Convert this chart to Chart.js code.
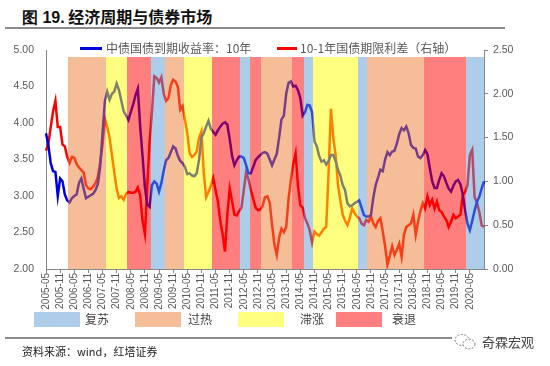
<!DOCTYPE html>
<html>
<head>
<meta charset="utf-8">
<script src="https://cdn.jsdelivr.net/npm/chart.js@4.4.1/dist/chart.umd.min.js"></script>
<style>
body{margin:0;background:#fff;width:550px;height:366px;position:relative;overflow:hidden;font-family:"Noto Sans CJK SC","Liberation Sans",sans-serif;}
#myChart{position:absolute;left:0;top:0;}
.abs{position:absolute;white-space:nowrap;}
#title{left:22px;top:5px;font-size:16px;line-height:22px;color:#111;font-weight:600;}
#title b{font-family:"Liberation Sans",sans-serif;font-weight:bold;}
.rule{position:absolute;left:5px;height:2px;background:#8a8a8a;}
.lg{font-size:12px;line-height:16px;color:#595959;}
.swatch{position:absolute;height:3px;}
.box{position:absolute;top:312px;width:46px;height:15px;}
.blg{font-size:12px;line-height:16px;color:#404040;top:311px;}
#source{left:22px;top:343px;font-size:11px;line-height:16px;color:#222;}
#mark{left:482px;top:333px;font-size:13px;line-height:17px;color:#444;}
</style>
</head>
<body>
<div id="title" class="abs"><b>图 19.</b> 经济周期与债券市场</div>
<div class="rule" style="top:27px;width:500px;"></div>
<canvas id="myChart" width="550" height="320"></canvas>

<div class="swatch" style="left:80px;top:47px;width:22px;background:#0000dd;"></div>
<div class="abs lg" style="left:106px;top:40px;">中债国债到期收益率：10年</div>
<div class="swatch" style="left:277px;top:47px;width:20px;background:#ff0000;"></div>
<div class="abs lg" style="left:300px;top:40px;">10-1年国债期限利差（右轴）</div>

<div id="phaseLegend"></div>

<div class="rule" style="top:337px;width:447px;"></div>
<div id="source" class="abs">资料来源：wind，红塔证券</div>
<svg class="abs" style="left:454px;top:333px;" width="24" height="18" viewBox="0 0 24 18">
  <ellipse cx="8" cy="7" rx="7" ry="5.5" fill="none" stroke="#777" stroke-width="1" stroke-dasharray="2 1.5"/>
  <ellipse cx="15" cy="11" rx="6" ry="4.8" fill="#fff" stroke="#777" stroke-width="1" stroke-dasharray="2 1.5"/>
</svg>
<div id="mark" class="abs">奇霖宏观</div>

<script>
// 中债国债到期收益率：10年 (左轴), 2005-05 起逐月
const yield10y = [
  3.86, 3.70, 3.45, 3.34, 3.33, 3.00, 3.24, 3.20, 3.02, 2.94,
  2.91, 2.97, 3.00, 3.02, 3.18, 3.24, 3.10, 2.97, 2.99, 3.01,
  3.03, 3.08, 3.16, 3.40, 3.85, 4.30, 4.43, 4.32, 4.40, 4.43,
  4.54, 4.45, 4.30, 4.16, 4.10, 4.04, 4.15, 4.25, 4.38, 4.47,
  3.95, 3.55, 3.12, 2.88, 2.85, 3.15, 3.20, 3.17, 3.06, 3.18,
  3.35, 3.49, 3.52, 3.60, 3.68, 3.65, 3.55, 3.48, 3.45, 3.40,
  3.30, 3.31, 3.28, 3.27, 3.31, 3.50, 3.80, 3.86, 3.95, 4.03,
  3.92, 3.88, 3.84, 3.90, 3.95, 3.99, 4.01, 3.98, 3.78, 3.55,
  3.42, 3.49, 3.54, 3.54, 3.52, 3.42, 3.31, 3.31, 3.40, 3.49,
  3.53, 3.56, 3.59, 3.60, 3.58, 3.50, 3.42, 3.50, 3.58, 3.80,
  4.05, 4.10, 4.40, 4.55, 4.57, 4.50, 4.51, 4.45, 4.34, 4.10,
  4.15, 4.25, 4.24, 4.15, 3.75, 3.68, 3.55, 3.47, 3.49, 3.43,
  3.48, 3.56, 3.56, 3.48, 3.36, 3.28, 3.15, 3.08, 2.90, 2.86,
  2.87, 2.90, 2.92, 2.94, 2.84, 2.74, 2.72, 2.72, 2.74, 2.98,
  3.15, 3.25, 3.36, 3.34, 3.50, 3.60, 3.56, 3.61, 3.62, 3.72,
  3.85, 3.93, 3.90, 3.95, 3.86, 3.70, 3.66, 3.65, 3.54, 3.52,
  3.56, 3.63, 3.57, 3.38, 3.20, 3.11, 3.11, 3.22, 3.31, 3.27,
  3.18, 3.10, 3.06, 3.14, 3.20, 3.22, 3.16, 3.02, 2.80, 2.62,
  2.53, 2.66, 2.80, 2.92, 2.99, 3.10, 3.20
];

// 10-1年国债期限利差 (右轴)
const spread = [
  1.35, 1.43, 1.62, 1.80, 1.92, 1.62, 1.62, 1.42, 1.40, 1.28,
  1.21, 1.28, 1.27, 1.20, 1.16, 1.13, 1.10, 0.96, 0.92, 0.91,
  0.94, 0.98, 1.05, 1.22, 1.42, 1.72, 1.62, 1.50, 1.30, 1.10,
  0.92, 0.81, 0.83, 0.79, 0.86, 0.88, 0.87, 0.87, 0.88, 0.93,
  0.84, 0.55, 0.40, 0.95, 1.45, 1.80, 2.20, 2.18, 2.13, 2.19,
  2.00, 1.92, 1.95, 2.10, 2.16, 2.14, 2.08, 1.82, 1.86, 1.70,
  1.55, 1.32, 1.28, 1.30, 1.34, 1.50, 1.57, 1.10, 0.82, 0.88,
  0.95, 1.04, 0.90, 0.77, 0.55, 0.40, 0.20, 0.62, 0.92, 0.78,
  0.62, 0.61, 0.66, 0.70, 0.90, 1.11, 1.02, 0.90, 0.80, 0.70,
  0.67, 0.68, 0.72, 0.82, 0.83, 0.76, 0.50, 0.28, 0.16, 0.36,
  0.46, 0.42, 0.48, 0.80, 1.02, 1.20, 1.32, 0.95, 0.73, 0.70,
  0.58, 0.52, 0.44, 0.30, 0.43, 0.40, 0.38, 0.42, 0.46, 0.48,
  1.10, 1.83, 1.50, 1.30, 0.96, 0.78, 0.62, 0.55, 0.50, 0.58,
  0.69, 0.64, 0.60, 0.58, 0.52, 0.50, 0.56, 0.54, 0.60, 0.52,
  0.48, 0.55, 0.58, 0.43, 0.26, 0.05, 0.15, 0.26, 0.16, 0.22,
  0.29, 0.14, 0.39, 0.48, 0.50, 0.52, 0.62, 0.39, 0.54, 0.66,
  0.75, 0.69, 0.83, 0.73, 0.79, 0.69, 0.77, 0.67, 0.65, 0.60,
  0.56, 0.48, 0.54, 0.62, 0.58, 0.60, 0.62, 0.84, 0.88, 0.96,
  1.30, 1.36, 0.82, 0.76, 0.65, 0.50, 0.48
];

// 经济周期阶段：起始月份 + 阶段
const bandStart = ['2006-03','2007-07','2008-04','2009-02','2009-08','2010-04','2011-04','2012-04',
  '2012-08','2013-01','2014-02','2014-07','2014-11','2016-06','2016-10','2018-10','2020-04'];
const bandPhase = ['过热','滞涨','衰退','复苏','过热','滞涨','衰退','复苏',
  '衰退','过热','衰退','复苏','滞涨','复苏','过热','衰退','复苏'];
const bandTop = 4.9;
const lastLabel = '2020-05';

const phaseNames = ['复苏','过热','滞涨','衰退'];
const phaseColor = {
  '复苏': 'rgba(91,155,213,0.5)',
  '过热': 'rgba(237,125,49,0.5)',
  '滞涨': 'rgba(255,255,0,0.5)',
  '衰退': 'rgba(255,0,0,0.5)'
};

// 月份标签
const months = [];
for (let i = 0; i < yield10y.length; i++) {
  const m = 4 + i; // 2005-05 起
  const yr = 2005 + Math.floor(m / 12);
  const mo = (m % 12) + 1;
  months.push(yr + '-' + (mo < 10 ? '0' + mo : mo));
}
const lastLabelIdx = months.indexOf(lastLabel);
const showTick = (i) => i % 6 === 0 && i <= lastLabelIdx;

// 底部阶段图例
const boxLeft = [34, 135, 238, 336];
const textLeft = [85, 188, 300, 392];
const pl = document.getElementById('phaseLegend');
phaseNames.forEach((p, i) => {
  const b = document.createElement('div');
  b.className = 'box';
  b.style.left = boxLeft[i] + 'px';
  b.style.background = phaseColor[p];
  pl.appendChild(b);
  const t = document.createElement('div');
  t.className = 'abs blg';
  t.style.left = textLeft[i] + 'px';
  t.textContent = p;
  pl.appendChild(t);
});

// 阶段色带画在折线之上（半透明）
const bandPlugin = {
  id: 'phaseBands',
  afterDatasetsDraw(chart) {
    const {ctx, chartArea, scales} = chart;
    const x = scales.x, y = scales.y;
    const half = (x.getPixelForValue(1) - x.getPixelForValue(0)) / 2;
    const top = Math.round(y.getPixelForValue(bandTop));
    ctx.save();
    ctx.beginPath();
    ctx.rect(chartArea.left, chartArea.top, chartArea.width, chartArea.height);
    ctx.clip();
    bandStart.forEach((s, i) => {
      const a = months.indexOf(s);
      const b = i + 1 < bandStart.length ? months.indexOf(bandStart[i + 1]) - 1 : months.length - 1;
      const l = Math.round(x.getPixelForValue(a) - half);
      const r = Math.round(x.getPixelForValue(b) + half);
      ctx.fillStyle = phaseColor[bandPhase[i]];
      ctx.fillRect(l, top, r - l, chartArea.bottom - top);
    });
    ctx.restore();
  }
};

const tickFont = {family: 'Liberation Sans', size: 10.5};

const config = {
  type: 'line',
  data: {
    labels: months,
    datasets: [
      {
        label: '中债国债到期收益率：10年',
        data: yield10y,
        borderColor: '#0000dd',
        borderWidth: 2.5,
        pointRadius: 0,
        tension: 0,
        yAxisID: 'y',
        order: 1
      },
      {
        label: '10-1年国债期限利差（右轴）',
        data: spread,
        borderColor: '#ff0000',
        borderWidth: 2.5,
        pointRadius: 0,
        tension: 0,
        yAxisID: 'y1',
        order: 2
      }
    ]
  },
  options: {
    responsive: false,
    animation: false,
    layout: {padding: {top: 50, left: 0, right: 0, bottom: 0}},
    plugins: {legend: {display: false}, tooltip: {enabled: false}},
    scales: {
      x: {
        offset: false,
        grid: {
          display: true,
          drawOnChartArea: false,
          drawTicks: true,
          tickLength: 4,
          color: (c) => (showTick(c.index) ? '#868686' : 'rgba(0,0,0,0)')
        },
        border: {display: true, color: '#868686', width: 1},
        ticks: {
          autoSkip: false,
          maxRotation: 90,
          minRotation: 90,
          padding: 0,
          color: '#595959',
          font: {family: 'Liberation Sans', size: 10},
          callback: (v, i) => (showTick(i) ? months[i] : '')
        },
        afterFit: (s) => { s.height = 51; }
      },
      y: {
        position: 'left',
        min: 2,
        max: 5,
        grid: {display: false, drawTicks: false},
        border: {display: true, color: '#868686', width: 1},
        ticks: {stepSize: 0.5, padding: 12, color: '#595959', font: tickFont,
          callback: (v) => v.toFixed(2)},
        afterFit: (s) => { s.width = 46; }
      },
      y1: {
        position: 'right',
        min: 0,
        max: 2.5,
        grid: {display: true, drawOnChartArea: false, drawTicks: true, tickLength: 4, color: '#868686'},
        border: {display: true, color: '#868686', width: 1},
        ticks: {stepSize: 0.5, padding: 5, color: '#595959', font: tickFont,
          callback: (v) => v.toFixed(2)},
        afterFit: (s) => { s.width = 66; }
      }
    }
  },
  plugins: [bandPlugin]
};

const myChart = new Chart(document.getElementById('myChart'), config);
</script>
</body>
</html>
